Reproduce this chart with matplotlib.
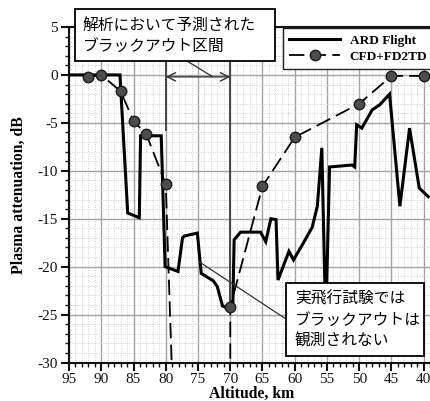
import matplotlib
matplotlib.use("Agg")
import matplotlib.pyplot as plt
from matplotlib.patches import Rectangle
from matplotlib.ticker import MultipleLocator

plt.rcParams['font.family'] = ['Liberation Serif', 'DejaVu Serif']
plt.rcParams['axes.unicode_minus'] = False

# Flight-measured attenuation (altitude in km, attenuation in dB)
ard_alt = [95, 87.1, 85.9, 84.1, 83.9, 80.7, 80.1, 78.1, 77.4, 77.1, 75.1,
           74.5, 72.6, 72.0, 71.2, 70.2, 69.6, 69.4, 68.4, 65.3, 64.5, 63.7,
           62.9, 62.6, 60.9, 60.2, 58.8, 57.3, 56.5, 55.8, 55.2, 54.6, 51.1,
           50.7, 50.4, 49.6, 48.0, 46.8, 45.3, 43.7, 42.2, 40.7, 39.3]
ard_db = [0, 0, -14.4, -14.9, -6.35, -6.35, -20.0, -20.5, -17.0, -16.8, -16.5,
          -20.7, -21.5, -22.1, -24.1, -24.4, -24.1, -17.2, -16.4, -16.4, -17.4,
          -15.0, -15.1, -21.4, -18.4, -19.3, -17.7, -15.9, -13.7, -7.6, -26.0,
          -9.6, -9.4, -9.6, -5.2, -5.55, -3.65, -3.1, -2.0, -13.7, -5.55,
          -11.8, -12.7]

# Computed attenuation (CFD + FD2TD); values below -30 dB fall off the axis
cfd_alt = [92, 90, 87, 85, 83, 80, 78.6, 70, 70, 65, 60, 50, 45, 40]
cfd_db = [-0.2, 0.0, -1.7, -4.8, -6.2, -11.4, -40, -40, -24.2, -11.6, -6.5,
          -3.0, -0.1, -0.1]

x_ticks = [95, 90, 85, 80, 75, 70, 65, 60, 55, 50, 45, 40]
y_ticks = [5, 0, -5, -10, -15, -20, -25, -30]

W, H = 430, 401
fig = plt.figure(figsize=(W / 100, H / 100), dpi=100)
ax = fig.add_axes([69 / W, 1 - 362.5 / H, 387 / W, 335.5 / H])

ax.set_xlim(95, 35)
ax.set_ylim(-30, 5)
ax.set_xticks(x_ticks)
ax.set_yticks(y_ticks)
ax.set_xticklabels([str(v) for v in x_ticks])
ax.set_yticklabels([str(v) for v in y_ticks])
ax.xaxis.set_minor_locator(MultipleLocator(1))
ax.yaxis.set_minor_locator(MultipleLocator(1))

ax.grid(which='major', color='#a3a3a3', lw=1.0, ls='-', zorder=0)
ax.grid(which='minor', color='#cfcfcf', lw=0.7, ls=(0, (1, 1.5)), zorder=0)
ax.set_axisbelow(True)

for side in ['left', 'bottom', 'top', 'right']:
    ax.spines[side].set_linewidth(1.5)
    ax.spines[side].set_color('#111111')

ax.tick_params(which='major', direction='out', length=6, width=1.5,
               labelsize=11, pad=2, colors='#111111')
ax.tick_params(which='minor', direction='out', length=3.2, width=1.0,
               colors='#111111')
ax.tick_params(axis='x', which='major', pad=1.5)

ax.plot(ard_alt, ard_db, color='black', lw=2.2, solid_joinstyle='miter',
        label='ARD Flight', zorder=4)
ax.plot(cfd_alt, cfd_db, color='black', lw=1.3, ls=(0, (8.5, 3.5)),
        marker='o', ms=7.5, mfc='#4d4d4d', mec='#1a1a1a', mew=1.0,
        label='CFD+FD2TD', zorder=5)

ax.set_xlabel('Altitude, km', fontsize=11.3, fontweight='bold')
ax.set_ylabel('Plasma attenuation, dB', fontsize=11.3, fontweight='bold')
ax.xaxis.set_label_coords((252 - 69) / 387, -(385.5 - 362.5) / 335.5)
ax.yaxis.set_label_coords(-(69 - 27) / 387, 0.5)

# Predicted blackout interval markers
ax.plot([80, 80], [1.5, -5.7], color='#454545', lw=1.4, zorder=3)
ax.plot([70, 70], [1.5, -24.0], color='#454545', lw=1.4, zorder=3)
ax.annotate('', xy=(70, -0.2), xytext=(80, -0.2),
            arrowprops=dict(arrowstyle='<->,head_length=0.6,head_width=0.3',
                            color='#333333', lw=1.0, shrinkA=0, shrinkB=0),
            zorder=6)

leg = ax.legend(loc='upper left', bbox_to_anchor=((283 - 69) / 387, 0.996),
                borderaxespad=0, frameon=True, fancybox=False,
                edgecolor='#222222', framealpha=1.0, handlelength=3.9,
                handletextpad=0.7, borderpad=0.45, labelspacing=0.3,
                prop=dict(family='Liberation Serif', weight='bold', size=9.5))
leg.get_frame().set_linewidth(1.0)
leg.set_zorder(7)


def fx(px):
    return px / W


def fy(py):
    return 1 - py / H


jp = ['Noto Sans CJK JP', 'DejaVu Sans']
jp_size = 11.3

# Upper callout: predicted blackout interval
fig.add_artist(Rectangle((fx(75), fy(61)), fx(275) - fx(75), fy(9) - fy(61),
                         transform=fig.transFigure, facecolor='white',
                         edgecolor='black', lw=1.3, zorder=10))
fig.text(fx(83), fy(25), '解析において予測された', family=jp, fontsize=jp_size,
         va='center', ha='left', zorder=11)
fig.text(fx(83), fy(46.5), 'ブラックアウト区間', family=jp, fontsize=jp_size,
         va='center', ha='left', zorder=11)
ax.annotate('', xy=(72.7, -0.2), xytext=(76.7, 1.45),
            arrowprops=dict(arrowstyle='-', color='#333333', lw=0.9,
                            shrinkA=0, shrinkB=0), zorder=6,
            annotation_clip=False)

# Lower callout: flight test result
ax.annotate('', xy=(74.8, -19.5), xytext=(61.5, -25.4),
            arrowprops=dict(arrowstyle='-', color='#333333', lw=0.9,
                            shrinkA=0, shrinkB=0), zorder=6)
fig.add_artist(Rectangle((fx(286), fy(356)), fx(424) - fx(286),
                         fy(283) - fy(356), transform=fig.transFigure,
                         facecolor='white', edgecolor='black', lw=1.3,
                         zorder=10))
for line, py in [('実飛行試験では', 299.5), ('ブラックアウトは', 320.5),
                 ('観測されない', 341.5)]:
    fig.text(fx(295), fy(py), line, family=jp, fontsize=jp_size, va='center',
             ha='left', zorder=11)

fig.savefig('out.png', dpi=100)
